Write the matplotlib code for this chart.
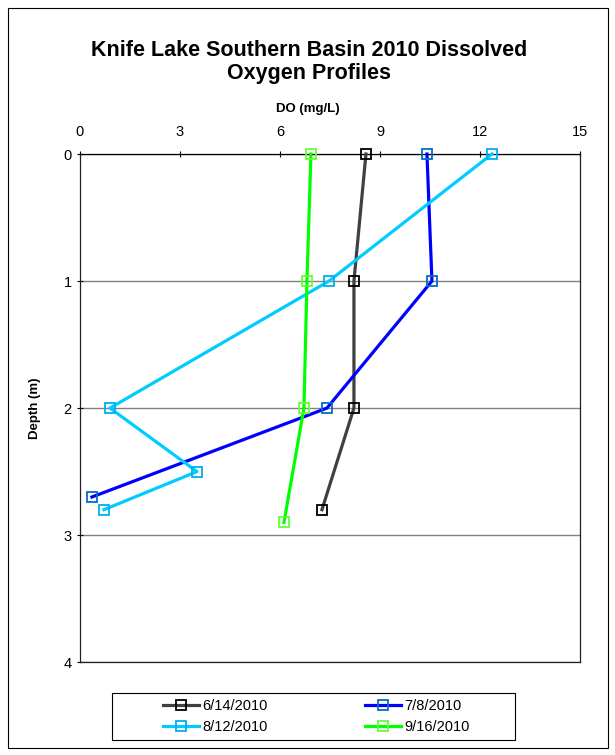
import matplotlib
matplotlib.use("Agg")
import matplotlib.pyplot as plt

plt.rcParams['font.family'] = ['Liberation Sans', 'DejaVu Sans']

# dissolved oxygen profiles (mg/L) vs depth (m)
jun_do = [8.58, 8.22, 8.22, 7.26]
jun_depth = [0, 1, 2, 2.8]
jul_do = [10.41, 10.56, 7.41, 0.36]
jul_depth = [0, 1, 2, 2.7]
aug_do = [12.36, 7.47, 0.9, 3.51, 0.72]
aug_depth = [0, 1, 2, 2.5, 2.8]
sep_do = [6.93, 6.81, 6.72, 6.12]
sep_depth = [0, 1, 2, 2.9]

series = [
    ("6/14/2010", jun_do, jun_depth, "#404040", "#000000"),
    ("7/8/2010", jul_do, jul_depth, "#0000FF", "#0070C0"),
    ("8/12/2010", aug_do, aug_depth, "#00CCFF", "#00B0F0"),
    ("9/16/2010", sep_do, sep_depth, "#00FF00", "#66FF33"),
]

fig = plt.figure(figsize=(6.15, 7.55), dpi=100)
# outer chart border
fig.patches.append(plt.Rectangle((0.013, 0.009), 0.975, 0.98, transform=fig.transFigure,
                                 fill=False, edgecolor="black", linewidth=0.8))

ax = fig.add_axes([0.130, 0.123, 0.813, 0.673])
handles = {}
for label, x, y, lc, mc in series:
    ln, = ax.plot(x, y, color=lc, linewidth=2.3, marker="s", markersize=7,
                  markerfacecolor="none", markeredgecolor=mc, markeredgewidth=1.3,
                  label=label, zorder=3, clip_on=False)
    handles[label] = ln

ax.set_xlim(0, 15)
ax.set_ylim(4, 0)
ax.set_xticks([0, 3, 6, 9, 12, 15])
ax.set_yticks([0, 1, 2, 3, 4])
ax.xaxis.tick_top()
ax.xaxis.set_label_position("top")
ax.tick_params(axis="both", labelsize=10.5, direction="inout", length=5, width=0.8)
ax.tick_params(axis="x", pad=8)
ax.set_xlabel("DO (mg/L)", fontsize=9.5, fontweight="bold", labelpad=10, x=0.456)
ax.set_ylabel("Depth (m)", fontsize=9.5, fontweight="bold", labelpad=16)
ax.yaxis.grid(True, color="#808080", linewidth=1)
ax.set_axisbelow(True)
for s in ax.spines.values():
    s.set_color("#202020")
    s.set_linewidth(0.9)
ax.spines["top"].set_color("black")

fig.text(0.502, 0.918, "Knife Lake Southern Basin 2010 Dissolved\nOxygen Profiles",
         ha="center", va="center", fontsize=15.5, fontweight="bold", linespacing=1.15)

# legend box drawn separately, entries centred inside it
fig.patches.append(plt.Rectangle((0.182, 0.020), 0.655, 0.062, transform=fig.transFigure,
                                 fill=False, edgecolor="black", linewidth=0.8))
# row-wise order like the original: ncol=2 fills by column, so interleave
order = ["6/14/2010", "8/12/2010", "7/8/2010", "9/16/2010"]
leg = fig.legend([handles[k] for k in order], order,
                 loc="center", bbox_to_anchor=(0.514, 0.051), ncol=2, fontsize=10.5,
                 frameon=False, handlelength=2.5, columnspacing=6.7,
                 handletextpad=0.2, borderpad=0.2, labelspacing=0.45, borderaxespad=0)

fig.savefig("out.png", dpi=100)
